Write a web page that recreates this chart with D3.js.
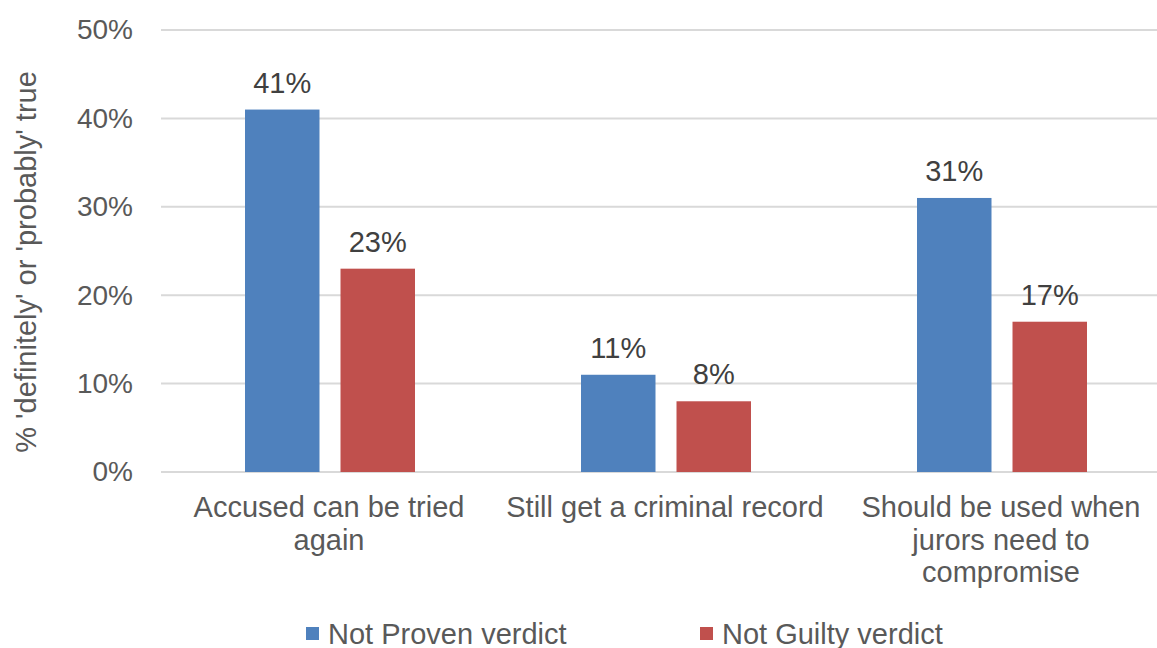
<!DOCTYPE html>
<html>
<head>
<meta charset="utf-8">
<script src="https://cdn.jsdelivr.net/npm/d3@7"></script>
<style>
  body { margin: 0; background: #fff; }
  svg { display: block; font-family: "Liberation Sans", Arial, sans-serif; }
</style>
</head>
<body>
<div id="chart"></div>
<script>
// Data
var categories = [
  ["Accused can be tried", "again"],
  ["Still get a criminal record"],
  ["Should be used when", "jurors need to", "compromise"]
];
var seriesNames = ["Not Proven verdict", "Not Guilty verdict"];
var notProven = [41, 11, 31];
var notGuilty = [23, 8, 17];
var yTicks = [0, 10, 20, 30, 40, 50];
var colors = ["#4f81bd", "#c0504d"];

// SVG setup
var width = 1157, height = 648;
var svg = d3.select("#chart").append("svg")
  .attr("width", width).attr("height", height);

var x = d3.scaleBand().domain(d3.range(categories.length)).range([161, 1169]);
var y = d3.scaleLinear().domain([0, 50]).range([472, 30]);
var xs = d3.scaleBand().domain(d3.range(seriesNames.length))
  .range([84, 254]).paddingInner(0.22);

// Gridlines
svg.append("g").selectAll("line").data(yTicks).enter().append("line")
  .attr("x1", 161).attr("x2", 1169)
  .attr("y1", function(d) { return y(d); })
  .attr("y2", function(d) { return y(d); })
  .attr("stroke", "#d9d9d9").attr("stroke-width", 2);

// Y axis
var yAxis = svg.append("g").attr("transform", "translate(161,0)")
  .call(d3.axisLeft(y).tickValues(yTicks).tickSize(0).tickPadding(28)
    .tickFormat(function(d) { return d + "%"; }));
yAxis.select(".domain").remove();
yAxis.selectAll("text").attr("font-size", "28px").attr("fill", "#595959")
  .attr("font-family", "Liberation Sans, Arial, sans-serif");

// Y title
svg.append("text")
  .attr("transform", "translate(36,262) rotate(-90)")
  .attr("text-anchor", "middle")
  .attr("font-size", "29px").attr("fill", "#595959")
  .text("% 'definitely' or 'probably' true");

// Bars
var data = [notProven, notGuilty];
var groups = svg.selectAll("g.series").data(data).enter().append("g")
  .attr("class", "series").attr("fill", function(d, i) { return colors[i]; });

groups.each(function(vals, si) {
  var g = d3.select(this);
  g.selectAll("rect").data(vals).enter().append("rect")
    .attr("x", function(d, i) { return x(i) + xs(si); })
    .attr("width", xs.bandwidth())
    .attr("y", function(d) { return y(d); })
    .attr("height", function(d) { return y(0) - y(d); });
  g.selectAll("text").data(vals).enter().append("text")
    .attr("x", function(d, i) { return x(i) + xs(si) + xs.bandwidth() / 2; })
    .attr("y", function(d) { return y(d) - 17; })
    .attr("text-anchor", "middle")
    .attr("font-size", "29px").attr("fill", "#404040")
    .text(function(d) { return d + "%"; });
});

// Category labels
var cat = svg.selectAll("text.cat").data(categories).enter().append("text")
  .attr("class", "cat")
  .attr("text-anchor", "middle")
  .attr("font-size", "29px").attr("fill", "#595959");
cat.each(function(lines, i) {
  d3.select(this).selectAll("tspan").data(lines).enter().append("tspan")
    .attr("x", x(i) + x.bandwidth() / 2)
    .attr("y", function(d, j) { return 517 + j * 32.5; })
    .text(function(d) { return d; });
});

// Legend
var legendX = [306, 700];
var legend = svg.selectAll("g.legend").data(seriesNames).enter().append("g")
  .attr("class", "legend")
  .attr("transform", function(d, i) { return "translate(" + legendX[i] + ",0)"; });
legend.append("rect").attr("x", 0).attr("y", 627).attr("width", 13).attr("height", 13)
  .attr("fill", function(d, i) { return colors[i]; });
legend.append("text").attr("x", 22).attr("y", 644)
  .attr("font-size", "29px").attr("fill", "#595959")
  .text(function(d) { return d; });
</script>
</body>
</html>
